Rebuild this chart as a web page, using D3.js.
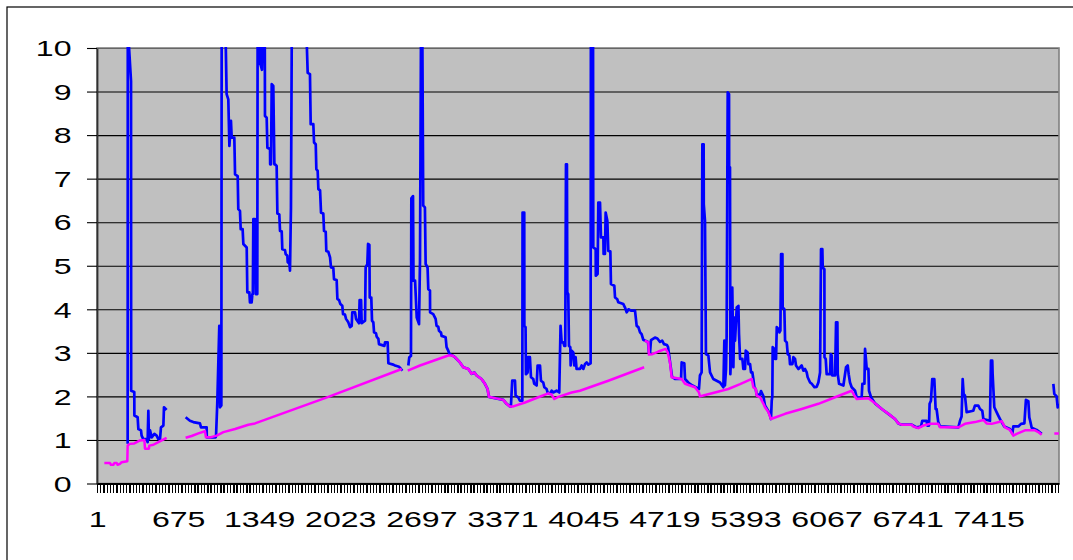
<!DOCTYPE html>
<html><head><meta charset="utf-8">
<script src="https://cdn.jsdelivr.net/npm/d3@7"></script>
<style>html,body{margin:0;padding:0;background:#fff;} svg{display:block;}</style>
</head><body>
<svg id="chart" width="1073" height="560"></svg>
<script>
// ---- data ----
const categoryCount = 8000;
const yTicks = [0,1,2,3,4,5,6,7,8,9,10];
const xLabels = [1,675,1349,2023,2697,3371,4045,4719,5393,6067,6741,7415];
const xTickStep = 27;

// blue series: [category, value]; null value = gap
const blueSeries = [
[255,0.91],[256,10.5],[283,9.24],[284,2.13],[310,2.1],[311,1.56],[338,1.52],[344,1.25],[366,1.22],[371,1.1],[385,1.02],[413,1.02],[421,0.95],[427,1.67],[432,1.02],[441,1.22],[455,1.06],[477,1.14],[496,1.1],[510,1.02],[524,1.02],[532,1.29],[552,1.33],[557,1.75],[579,1.69],[600,null],
[737,1.52],[773,1.44],[801,1.41],[856,1.38],[865,1.29],[912,1.29],[913,1.06],[987,1.06],[990,1.1],[1000,1.83],[1017,3.62],[1023,1.75],[1034,1.79],[1037,11],[1050,15],[1068,10.5],[1078,8.94],[1092,8.82],[1101,7.75],[1114,8.33],[1120,7.94],[1142,7.94],[1148,7.1],[1170,7.06],[1175,6.3],[1189,6.26],[1195,5.84],[1211,5.84],[1217,5.5],[1245,5.42],[1250,4.39],[1267,4.39],[1272,4.16],[1286,4.16],[1292,4.35],[1296,4.35],[1300,6.07],[1314,6.07],[1320,4.35],[1333,4.35],[1336,11],[1341,9.63],[1350,10.5],[1362,9.6],[1372,9.5],[1380,10.5],[1395,10.5],[1397,8.44],[1411,8.4],[1417,7.71],[1439,7.68],[1440,7.33],[1447,7.33],[1453,9.17],[1466,9.13],[1475,7.33],[1480,7.33],[1494,7.29],[1500,6.2],[1516,6.18],[1522,5.8],[1536,5.79],[1541,5.38],[1563,5.36],[1569,5.27],[1583,5.23],[1586,5.08],[1600,5.05],[1605,4.89],[1613,6.34],[1626,14],[1690,16],[1740,10.5],[1752,9.43],[1771,9.4],[1777,8.25],[1799,8.25],[1805,7.83],[1819,7.79],[1824,7.22],[1835,7.18],[1841,6.76],[1855,6.73],[1863,6.22],[1882,6.2],[1888,5.8],[1902,5.78],[1907,5.34],[1924,5.32],[1938,5.19],[1946,4.96],[1965,4.95],[1971,4.69],[1993,4.67],[1999,4.24],[2013,4.21],[2024,4.12],[2040,4.08],[2046,3.89],[2062,3.88],[2071,3.78],[2090,3.7],[2104,3.59],[2118,3.62],[2123,3.93],[2146,3.93],[2154,3.78],[2179,3.68],[2184,4.21],[2196,4.21],[2201,3.68],[2229,3.74],[2234,4.96],[2248,5.04],[2254,5.5],[2265,5.48],[2268,4.27],[2281,4.27],[2287,3.74],[2298,3.7],[2304,3.47],[2320,3.45],[2326,3.37],[2340,3.32],[2345,3.2],[2390,3.16],[2395,3.24],[2417,3.24],[2423,2.76],[2464,2.73],[2478,2.71],[2512,2.68],[2528,2.63],[2539,2.59],[2560,null],
[2589,2.71],[2597,2.9],[2611,2.93],[2614,6.55],[2628,6.6],[2632,4.66],[2645,4.66],[2659,3.81],[2678,3.66],[2686,5.1],[2700,14],[2706,10],[2713,6.38],[2727,6.34],[2733,5.04],[2749,4.96],[2755,4.46],[2769,4.43],[2770,3.93],[2796,3.89],[2816,3.78],[2824,3.62],[2838,3.6],[2844,3.51],[2860,3.47],[2866,3.39],[2899,3.36],[2907,3.13],[2921,3.05],[2932,2.97],[2954,2.94],[2977,2.9],[3018,2.78],[3046,2.67],[3088,2.63],[3115,2.52],[3137,2.55],[3157,2.48],[3198,2.4],[3226,2.29],[3248,2.17],[3259,1.99],[3309,1.96],[3379,1.92],[3406,1.83],[3434,1.77],[3442,1.77],[3453,2.36],[3476,2.36],[3481,2.02],[3503,1.98],[3517,1.9],[3537,1.9],[3539,6.22],[3553,6.22],[3554,3.62],[3564,3.59],[3567,2.51],[3581,2.55],[3586,2.9],[3600,2.9],[3609,2.44],[3628,2.4],[3636,2.29],[3656,2.25],[3664,2.71],[3684,2.71],[3692,2.36],[3711,2.32],[3720,2.21],[3739,2.17],[3747,2.09],[3767,2.06],[3781,2.13],[3794,2.09],[3822,2.13],[3844,2.09],[3855,3.62],[3864,3.24],[3878,3.24],[3886,3.16],[3894,3.16],[3900,7.33],[3908,7.33],[3911,4.39],[3919,4.35],[3925,3.16],[3936,3.13],[3939,2.71],[3947,3.05],[3961,3.01],[3969,2.71],[3980,2.9],[3988,2.63],[4017,2.63],[4030,2.71],[4044,2.63],[4058,2.74],[4072,2.78],[4086,2.73],[4105,2.76],[4108,14],[4120,16],[4125,10.5],[4127,5.42],[4147,5.38],[4148,4.77],[4163,4.81],[4169,6.45],[4183,6.45],[4191,5.65],[4211,5.65],[4213,5.27],[4224,5.27],[4230,6.22],[4244,6.03],[4252,5.34],[4269,5.33],[4274,4.58],[4302,4.54],[4308,4.27],[4327,4.23],[4335,4.16],[4377,4.12],[4391,4.04],[4405,3.93],[4420,4.0],[4440,3.97],[4474,3.97],[4488,3.62],[4502,3.59],[4516,3.47],[4529,3.43],[4543,3.3],[4582,3.25],[4590,3.0],[4599,3.0],[4607,3.29],[4640,3.35],[4660,3.33],[4682,3.25],[4700,3.28],[4715,3.2],[4740,3.18],[4749,3.13],[4765,2.8],[4782,2.45],[4807,2.4],[4857,2.4],[4862,2.78],[4884,2.76],[4890,2.4],[4917,2.32],[4931,2.29],[4951,2.25],[4973,2.22],[5006,2.17],[5014,2.48],[5028,2.55],[5034,7.79],[5045,7.79],[5046,6.41],[5056,6.03],[5064,2.97],[5084,2.94],[5098,2.55],[5125,2.4],[5153,2.36],[5181,2.32],[5209,2.21],[5217,3.28],[5222,2.25],[5231,2.63],[5236,3.36],[5245,8.98],[5256,8.94],[5257,7.26],[5264,7.26],[5267,2.51],[5278,3.28],[5283,4.5],[5292,2.67],[5300,3.81],[5306,3.28],[5320,4.04],[5334,4.08],[5339,3.43],[5348,2.86],[5367,2.86],[5375,2.63],[5389,2.63],[5395,3.05],[5411,3.01],[5417,2.74],[5431,2.74],[5439,2.55],[5450,2.55],[5458,2.4],[5467,2.21],[5478,2.17],[5486,2.04],[5514,2.04],[5522,2.12],[5542,2.0],[5555,1.79],[5583,1.66],[5597,1.56],[5605,1.48],[5611,1.9],[5616,2.0],[5619,3.13],[5633,3.09],[5639,2.86],[5647,2.86],[5653,3.59],[5666,3.55],[5675,3.47],[5683,3.51],[5689,5.27],[5700,5.27],[5702,4.04],[5716,4.0],[5722,3.28],[5736,3.24],[5744,2.97],[5758,2.94],[5763,2.74],[5783,2.74],[5791,2.9],[5805,2.86],[5813,2.71],[5833,2.63],[5847,2.67],[5860,2.71],[5874,2.59],[5888,2.63],[5902,2.55],[5910,2.44],[5930,2.32],[5944,2.29],[5966,2.21],[5985,2.22],[5999,2.32],[6013,2.55],[6021,5.38],[6032,5.38],[6035,4.96],[6049,4.92],[6050,2.9],[6060,2.86],[6068,2.51],[6096,2.51],[6102,2.97],[6110,2.94],[6115,2.48],[6138,2.48],[6146,3.7],[6157,3.7],[6160,2.51],[6171,2.29],[6207,2.25],[6229,2.67],[6243,2.71],[6251,2.51],[6262,2.32],[6276,2.21],[6304,2.13],[6318,1.98],[6359,1.98],[6365,2.29],[6382,2.29],[6387,3.09],[6393,2.9],[6401,2.63],[6415,2.63],[6420,2.13],[6437,1.98],[6470,1.84],[6526,1.71],[6581,1.6],[6636,1.48],[6664,1.38],[6691,1.35],[6775,1.35],[6816,1.29],[6852,1.31],[6863,1.44],[6899,1.44],[6905,1.33],[6919,1.33],[6924,1.83],[6935,1.9],[6946,2.4],[6963,2.4],[6974,1.71],[6982,1.71],[6996,1.41],[7010,1.31],[7163,1.29],[7177,1.44],[7190,1.54],[7199,2.4],[7207,2.06],[7218,2.02],[7232,1.64],[7268,1.66],[7287,1.67],[7301,1.79],[7329,1.79],[7343,1.71],[7362,1.67],[7371,1.48],[7426,1.44],[7434,2.82],[7445,2.82],[7448,2.51],[7462,1.75],[7481,1.64],[7495,1.56],[7517,1.44],[7545,1.31],[7592,1.25],[7612,1.15],[7620,1.31],[7662,1.31],[7684,1.37],[7712,1.38],[7725,1.92],[7745,1.89],[7753,1.52],[7761,1.43],[7773,1.28],[7814,1.23],[7856,1.14],[7900,null],
[7953,2.29],[7961,2.06],[7980,2.0],[7989,1.75],[7999,1.83]
];

// magenta series
const pinkSeries = [
[61,0.47],[108,0.47],[116,0.43],[136,0.43],[144,0.47],[164,0.47],[172,0.43],[191,0.45],[205,0.49],[252,0.51],[255,0.87],[274,0.91],[310,0.92],[330,0.95],[358,0.99],[394,1.0],[399,0.8],[432,0.8],[435,0.87],[469,0.89],[510,0.95],[538,0.99],[579,1.05],[600,null],
[737,1.05],[787,1.09],[843,1.15],[898,1.2],[906,1.06],[940,1.06],[995,1.1],[1051,1.18],[1148,1.25],[1259,1.35],[1314,1.38],[1924,1.99],[2534,2.63],[2560,null],
[2584,2.59],[2686,2.71],[2921,2.94],[2954,2.94],[2977,2.9],[3018,2.78],[3046,2.67],[3088,2.63],[3115,2.52],[3137,2.55],[3157,2.48],[3198,2.4],[3226,2.29],[3248,2.17],[3259,1.99],[3309,1.96],[3379,1.92],[3406,1.83],[3434,1.77],[3462,1.77],[3559,1.86],[3670,1.98],[3753,2.07],[3781,2.04],[3803,1.94],[3836,1.99],[3947,2.09],[4016,2.13],[4252,2.36],[4550,2.67],[4552,null],
[4555,3.28],[4585,3.24],[4590,2.96],[4618,2.97],[4668,3.03],[4729,3.09],[4746,3.01],[4765,2.78],[4779,2.44],[4862,2.4],[4890,2.29],[4931,2.25],[4973,2.21],[5006,2.09],[5014,2.0],[5042,2.02],[5139,2.09],[5250,2.17],[5348,2.28],[5445,2.4],[5458,2.21],[5478,2.17],[5486,2.02],[5514,1.98],[5542,1.83],[5555,1.75],[5583,1.64],[5597,1.54],[5605,1.48],[5722,1.6],[5860,1.71],[5999,1.83],[6138,1.98],[6276,2.13],[6298,2.02],[6318,1.94],[6415,1.96],[6443,1.9],[6470,1.84],[6526,1.71],[6581,1.6],[6636,1.48],[6664,1.38],[6691,1.35],[6775,1.35],[6788,1.31],[6830,1.27],[6872,1.33],[6927,1.37],[6996,1.37],[7010,1.29],[7163,1.29],[7218,1.37],[7301,1.41],[7371,1.46],[7398,1.38],[7440,1.37],[7523,1.43],[7551,1.29],[7592,1.23],[7620,1.1],[7648,1.14],[7717,1.22],[7800,1.22],[7828,1.18],[7856,1.12],[7900,null],
[7961,1.15],[7999,1.15]
];

// ---- drawing ----
const svg = d3.select('#chart');
const plot = {left:97, right:1059, top:48, bottom:483.5};
const x = d3.scaleLinear().domain([0, categoryCount]).range([plot.left, plot.right]);
const y = d3.scaleLinear().domain([0, 10]).range([plot.bottom, plot.top]);
const FONT = '"Liberation Sans", Arial, sans-serif';
const FS = 21.4, SX = 1.5;

// outer chart border
svg.append('rect').attr('x',7).attr('y',7).attr('width',1100).attr('height',600)
  .attr('fill','#fff').attr('stroke','#000').attr('stroke-width',1.2);

// plot area
svg.append('rect').attr('x',plot.left).attr('y',plot.top)
  .attr('width',plot.right-plot.left).attr('height',plot.bottom-plot.top)
  .attr('fill','#C0C0C0');

// gridlines
svg.append('g').attr('transform',`translate(${plot.left},0)`)
  .call(d3.axisLeft(y).tickValues(yTicks).tickSize(-(plot.right-plot.left)).tickFormat(''))
  .call(g => g.select('.domain').remove())
  .call(g => g.selectAll('line').attr('stroke','#000').attr('stroke-width',1.1));

// plot border (gray)
svg.append('rect').attr('x',plot.left).attr('y',plot.top)
  .attr('width',plot.right-plot.left).attr('height',plot.bottom-plot.top)
  .attr('fill','none').attr('stroke','#808080').attr('stroke-width',1.6);

// clip
svg.append('defs').append('clipPath').attr('id','clip').append('rect')
  .attr('x',plot.left).attr('y',plot.top-1).attr('width',plot.right-plot.left).attr('height',plot.bottom-plot.top+1);

const line = d3.line().defined(d => d[1] != null).x(d => x(d[0])).y(d => y(d[1]));
const lines = svg.append('g').attr('clip-path','url(#clip)');
lines.append('path').datum(blueSeries).attr('d',line).attr('fill','none')
  .attr('stroke','#0000FF').attr('stroke-width',2.7).attr('stroke-linejoin','round');
lines.append('path').datum(pinkSeries).attr('d',line).attr('fill','none')
  .attr('stroke','#FF00FF').attr('stroke-width',2.5).attr('stroke-linejoin','round');

// y axis
const yAxis = svg.append('g').attr('transform',`translate(${plot.left},0)`)
  .call(d3.axisLeft(y).tickValues(yTicks).tickSize(10).tickSizeOuter(0).tickFormat(d3.format('d')));
yAxis.select('.domain').attr('stroke','#303030').attr('stroke-width',1.8);
yAxis.selectAll('.tick line').attr('stroke','#000').attr('stroke-width',1.1);
yAxis.selectAll('.tick text')
  .attr('x',0).attr('dy',null).attr('text-anchor','end')
  .attr('transform',`translate(-25.5,7.7) scale(${SX},1)`)
  .attr('font-family',FONT).attr('font-size',FS).attr('fill','#000');

// x axis tick marks
const tickCats = d3.range(0, categoryCount+1, xTickStep);
const xMarks = svg.append('g').attr('transform',`translate(0,${plot.bottom})`)
  .call(d3.axisBottom(x).tickValues(tickCats).tickSize(9).tickSizeOuter(0).tickFormat(''));
xMarks.select('.domain').attr('stroke','#000').attr('stroke-width',1.8);
xMarks.selectAll('.tick line').attr('stroke','#000').attr('stroke-width',1.3)
  .attr('shape-rendering','crispEdges');

// x labels
const xLab = svg.append('g').attr('transform',`translate(0,${plot.bottom})`)
  .call(d3.axisBottom(x).tickValues(xLabels).tickSize(0).tickFormat(d3.format('d')));
xLab.select('.domain').remove();
xLab.selectAll('.tick text')
  .attr('y',0).attr('dy',null).attr('text-anchor','middle')
  .attr('transform',`translate(0,43.5) scale(${SX},1)`)
  .attr('font-family',FONT).attr('font-size',FS).attr('fill','#000');
</script>
</body></html>
